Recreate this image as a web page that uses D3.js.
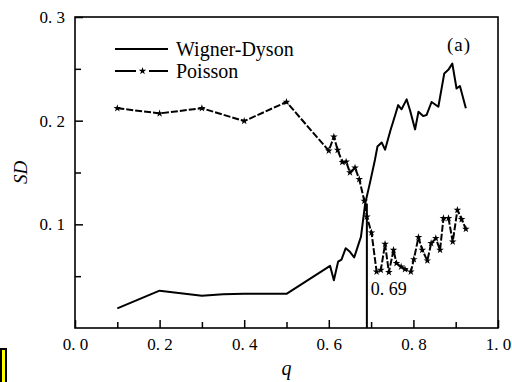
<!DOCTYPE html>
<html><head><meta charset="utf-8"><script src="https://cdn.jsdelivr.net/npm/d3@7"></script></head>
<body style="margin:0">
<script>
// ---- data ----
const wdQ  = [0.10, 0.20, 0.30, 0.35, 0.40, 0.50, 0.603, 0.612, 0.622, 0.630, 0.640, 0.650, 0.660, 0.668, 0.676, 0.686, 0.697, 0.709, 0.715, 0.725, 0.733, 0.746, 0.757, 0.764, 0.772, 0.784, 0.792, 0.804, 0.812, 0.823, 0.831, 0.843, 0.859, 0.873, 0.8825, 0.892, 0.902, 0.910, 0.924];
const wdSD = [0.019, 0.036, 0.031, 0.0325, 0.033, 0.033, 0.060, 0.046, 0.064, 0.066, 0.077, 0.0735, 0.068, 0.078, 0.088, 0.120, 0.1395, 0.162, 0.175, 0.179, 0.172, 0.191, 0.2055, 0.215, 0.211, 0.2205, 0.210, 0.1916, 0.2086, 0.2044, 0.2054, 0.218, 0.2134, 0.2456, 0.249, 0.255, 0.231, 0.2334, 0.212];

const poQ  = [0.10, 0.20, 0.30, 0.40, 0.50, 0.600, 0.612, 0.621, 0.632, 0.641, 0.650, 0.662, 0.672, 0.684, 0.690, 0.701, 0.713, 0.723, 0.733, 0.742, 0.753, 0.760, 0.771, 0.780, 0.794, 0.801, 0.812, 0.821, 0.833, 0.842, 0.853, 0.863, 0.871, 0.883, 0.893, 0.904, 0.914, 0.924];
const poSD = [0.212, 0.207, 0.212, 0.1996, 0.218, 0.171, 0.1845, 0.1716, 0.160, 0.1604, 0.150, 0.1546, 0.1434, 0.1225, 0.1073, 0.092, 0.0543, 0.056, 0.081, 0.0537, 0.0752, 0.0624, 0.0591, 0.0566, 0.0543, 0.0662, 0.0875, 0.0752, 0.065, 0.0817, 0.0865, 0.0752, 0.1058, 0.1058, 0.0832, 0.1138, 0.1048, 0.0955];

const xMajorTicks = [0.0, 0.2, 0.4, 0.6, 0.8, 1.0];
const xMinorTicks = [0.1, 0.3, 0.5, 0.7, 0.9];
const yMajorTicks = [0.1, 0.2, 0.3];
const yMinorTicks = [0.05, 0.15, 0.25];
const seriesNames = ["Wigner-Dyson", "Poisson"];
const critQ = 0.69;
const critSD = 0.12;
const critLabel = "0. 69";
const panelLabel = "(a)";
const xTitle = "q";
const yTitle = "SD";

// ---- layout ----
const W = 512, H = 382;
const L = 75, R = 498, T = 17, B = 328;
const FF = "'Times New Roman', monospace";

const svg = d3.select("body").append("svg").attr("width", W).attr("height", H);

const x = d3.scaleLinear().domain([0, 1]).range([L, R]);
const y = d3.scaleLinear().domain([0, 0.3]).range([B, T]);

const fmt = v => d3.format(".1f")(v).replace(".", ". ");

function setFont(sel, size) {
  return sel.style("font-family", FF).style("font-size", size + "px");
}

// axes
const gx = svg.append("g").attr("transform", `translate(0,${B})`)
  .call(d3.axisBottom(x).tickValues(xMajorTicks).tickFormat(fmt).tickSizeInner(-8).tickSizeOuter(0).tickPadding(10));
const gxm = svg.append("g").attr("transform", `translate(0,${B})`)
  .call(d3.axisBottom(x).tickValues(xMinorTicks).tickFormat("").tickSizeInner(-6).tickSizeOuter(0));
const gy = svg.append("g").attr("transform", `translate(${L},0)`)
  .call(d3.axisLeft(y).tickValues(yMajorTicks).tickFormat(fmt).tickSizeInner(-8).tickSizeOuter(0).tickPadding(10));
const gym = svg.append("g").attr("transform", `translate(${L},0)`)
  .call(d3.axisLeft(y).tickValues(yMinorTicks).tickFormat("").tickSizeInner(-6).tickSizeOuter(0));

[gx, gxm, gy, gym].forEach(g => {
  g.attr("font-family", null).attr("font-size", null);
  g.select(".domain").remove();
  g.selectAll(".tick line").attr("stroke", "#000").attr("stroke-width", 1.5);
  setFont(g.selectAll("text"), 17).attr("fill", "#000");
});

// frame
svg.append("rect").attr("x", L).attr("y", T).attr("width", R - L).attr("height", B - T)
  .attr("fill", "none").attr("stroke", "#000").attr("stroke-width", 1.6);

// lines
const wdData = wdQ.map((q, i) => [q, wdSD[i]]);
const poData = poQ.map((q, i) => [q, poSD[i]]);
const line = d3.line().x(d => x(d[0])).y(d => y(d[1]));

svg.append("path").datum(wdData).attr("d", line)
  .attr("fill", "none").attr("stroke", "#000").attr("stroke-width", 2).attr("stroke-linejoin", "round");

svg.append("path").datum(poData).attr("d", line)
  .attr("fill", "none").attr("stroke", "#000").attr("stroke-width", 2)
  .attr("stroke-dasharray", "7,2").attr("stroke-linejoin", "round");

const star = d3.symbol().type(d3.symbolStar).size(18);
svg.append("g").selectAll("path").data(poData).join("path")
  .attr("d", star)
  .attr("transform", d => `translate(${x(d[0])},${y(d[1])})`)
  .attr("fill", "#000");

// critical vertical line
svg.append("line")
  .attr("x1", x(critQ)).attr("x2", x(critQ))
  .attr("y1", y(0)).attr("y2", y(critSD))
  .attr("stroke", "#000").attr("stroke-width", 2);

function txt(xp, yp, s, size) {
  return setFont(svg.append("text").attr("x", xp).attr("y", yp), size).attr("fill", "#000").text(s);
}

txt(x(critQ) + 4, 295, critLabel, 18);

// legend
const lg = svg.append("g");
lg.append("line").attr("x1", 115).attr("x2", 168).attr("y1", 49).attr("y2", 49)
  .attr("stroke", "#000").attr("stroke-width", 2);
lg.append("line").attr("x1", 115).attr("x2", 136).attr("y1", 71).attr("y2", 71)
  .attr("stroke", "#000").attr("stroke-width", 2);
lg.append("line").attr("x1", 149).attr("x2", 168).attr("y1", 71).attr("y2", 71)
  .attr("stroke", "#000").attr("stroke-width", 2);
lg.append("path").attr("d", star).attr("transform", "translate(142.5,71)").attr("fill", "#000");
txt(176, 56, seriesNames[0], 20);
txt(176, 78, seriesNames[1], 20);

// panel label
txt(447, 51, panelLabel, 19).style("letter-spacing", "1px");

// axis titles
txt((L + R) / 2, 375, xTitle, 20).attr("text-anchor", "middle").style("font-style", "italic");
setFont(svg.append("text").attr("transform", `translate(27,${(T + B) / 2}) rotate(-90)`), 19)
  .attr("text-anchor", "middle").style("font-style", "italic").attr("fill", "#000").text(yTitle);

// yellow marker box at bottom-left
svg.append("rect").attr("x", 1).attr("y", 349).attr("width", 5).attr("height", 40)
  .attr("fill", "#ffff00").attr("stroke", "#000").attr("stroke-width", 2);
</script>
</body>
</html>
